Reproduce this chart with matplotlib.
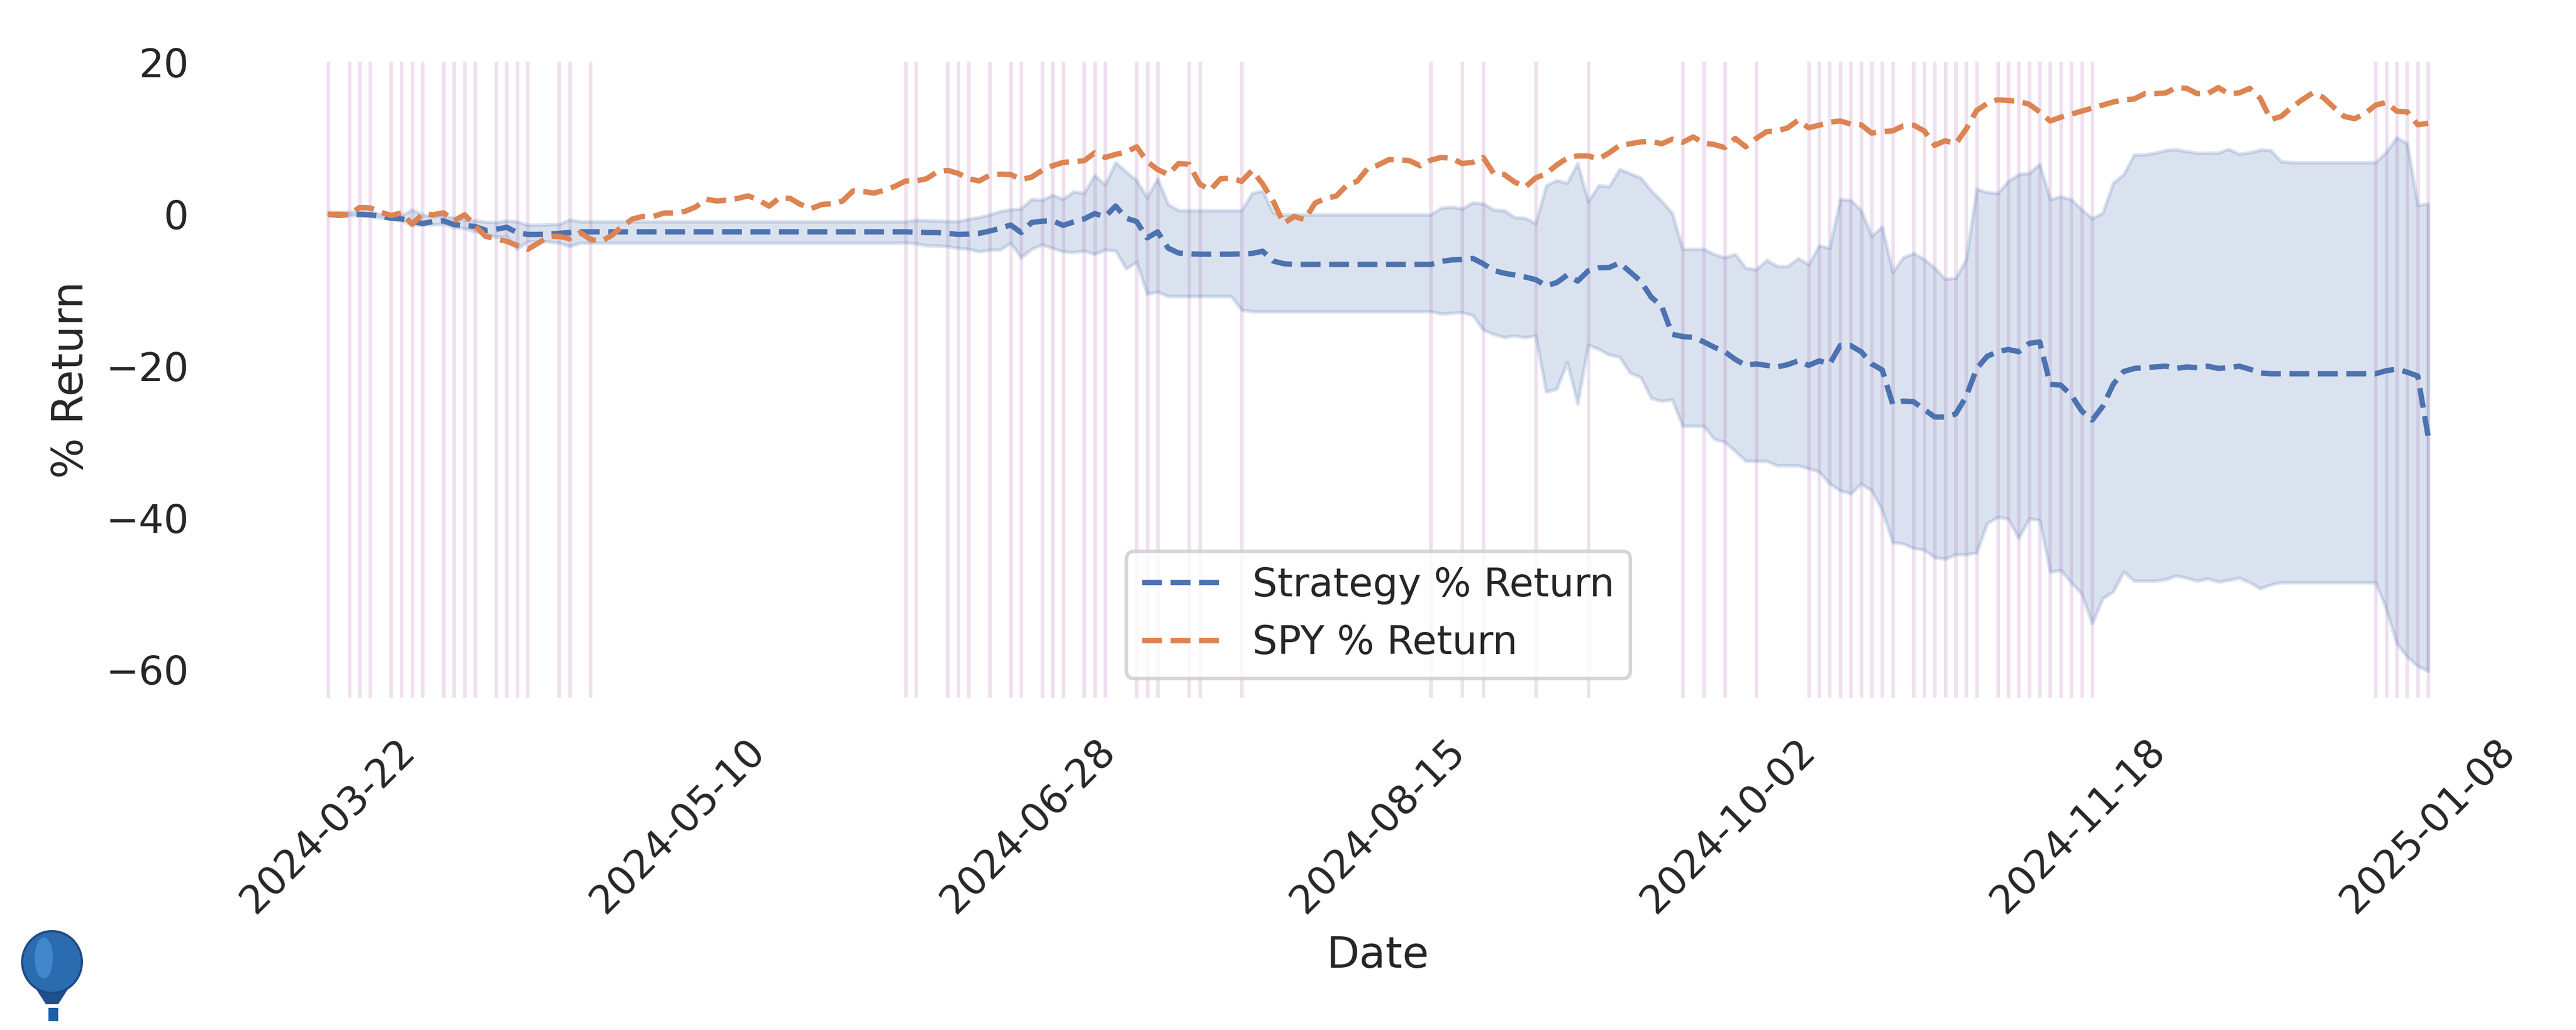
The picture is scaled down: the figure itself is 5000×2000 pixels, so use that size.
import numpy as np
import matplotlib
matplotlib.use("Agg")
import matplotlib.pyplot as plt
import matplotlib.patches as mpatches
import seaborn as sns

sns.set_theme(style="white", context="notebook")
plt.rcParams["font.family"] = ["DejaVu Sans"]

# ---------------- data (one value per trading day) ----------------
tick_labels = ["2024-03-22", "2024-05-10", "2024-06-28", "2024-08-15",
               "2024-10-02", "2024-11-18", "2025-01-08"]

spy_return = [
    0.0, 0.0, -0.05, 0.9, 0.85, 0.3, -0.15, 0.2, -1.3, 0.05,
    -0.05, 0.2, -0.85, -0.05, -1.5, -2.9, -3.2, -3.55, -4.1, -4.6,
    -3.8, -2.9, -2.9, -3.2, -2.4, -3.3, -3.55, -2.8, -1.6, -0.6,
    -0.27, -0.27, 0.18, 0.18, 0.4, 0.97, 2.0, 1.76, 1.87, 2.1,
    2.44, 1.87, 1.08, 2.2, 2.1, 1.3, 0.75, 1.3, 1.4, 1.76,
    3.1, 3.0, 2.8, 3.2, 3.7, 4.4, 4.4, 4.7, 5.6, 5.8,
    5.4, 4.7, 4.4, 5.15, 5.3, 5.25, 4.6, 4.9, 5.8, 6.4,
    6.85, 6.95, 7.07, 8.1, 7.5, 7.9, 8.2, 8.9, 6.95, 5.9,
    5.26, 6.7, 6.6, 4.0, 3.2, 4.7, 4.75, 4.35, 5.8, 4.0,
    1.76, -1.2, -0.27, -0.7, 1.5, 2.1, 2.4, 3.8, 4.36, 6.05,
    6.5, 7.2, 7.2, 7.07, 6.4, 7.14, 7.5, 7.4, 6.7, 6.85,
    7.5, 5.4, 5.26, 4.25, 3.6, 4.8, 5.37, 6.5, 7.4, 7.7,
    7.7, 7.3, 8.1, 9.1, 9.3, 9.55, 9.6, 9.3, 9.9, 9.5,
    10.2, 9.4, 9.2, 8.8, 10.0, 8.9, 10.0, 10.9, 11.0, 11.4,
    12.4, 11.4, 11.75, 12.15, 12.3, 11.9, 11.8, 10.7, 10.9, 11.0,
    11.65, 11.75, 11.0, 9.1, 9.7, 9.3, 11.25, 13.7, 14.6, 15.1,
    15.0, 14.9, 14.5, 13.5, 12.3, 12.8, 13.2, 13.6, 14.0, 14.4,
    14.8, 15.1, 15.2, 15.9, 15.9, 16.0, 16.7, 16.6, 15.9, 15.9,
    16.7, 15.9, 16.0, 16.6, 15.3, 12.5, 12.9, 14.1, 15.1, 16.0,
    15.4, 14.1, 12.9, 12.6, 13.3, 14.4, 14.75, 13.6, 13.5, 11.8,
    12.0,
]

strategy_return = [
    0.0, -0.1, -0.05, 0.0, -0.05, -0.25, -0.5, -0.6, -0.95, -1.2,
    -0.95, -0.85, -1.35, -1.45, -1.6, -2.1, -1.97, -1.7, -2.4, -2.65,
    -2.65, -2.6, -2.5, -2.4, -2.3, -2.3, -2.3, -2.3, -2.3, -2.3,
    -2.3, -2.3, -2.3, -2.3, -2.3, -2.3, -2.3, -2.3, -2.3, -2.3,
    -2.3, -2.3, -2.3, -2.3, -2.3, -2.3, -2.3, -2.3, -2.3, -2.3,
    -2.3, -2.3, -2.3, -2.3, -2.3, -2.3, -2.35, -2.4, -2.4, -2.5,
    -2.65, -2.6, -2.5, -2.2, -1.85, -1.4, -2.4, -1.07, -0.9, -0.85,
    -1.45, -1.0, -0.6, 0.1, -0.3, 1.1, -0.5, -0.95, -3.1, -2.3,
    -4.45, -5.1, -5.2, -5.25, -5.25, -5.25, -5.25, -5.2, -5.15, -4.85,
    -6.15, -6.5, -6.6, -6.6, -6.6, -6.6, -6.6, -6.6, -6.6, -6.6,
    -6.6, -6.6, -6.6, -6.6, -6.6, -6.6, -6.2, -6.0, -5.95, -5.8,
    -6.5, -7.4, -7.75, -8.0, -8.25, -8.6, -9.4, -9.0, -8.0, -8.8,
    -7.44, -7.05, -7.0, -6.4, -7.6, -8.8, -10.9, -12.1, -15.8, -16.1,
    -16.2, -16.8, -17.5, -18.1, -19.1, -19.9, -19.7, -19.9, -20.1, -19.8,
    -19.3, -19.9, -19.3, -19.7, -17.3, -17.3, -18.1, -19.7, -20.5, -25.0,
    -24.6, -24.7, -25.7, -26.7, -26.7, -26.3, -24.0, -20.3, -18.7, -18.1,
    -17.8, -18.1, -17.0, -16.8, -22.4, -22.5, -23.8, -25.9, -27.1, -25.3,
    -22.4, -20.7, -20.3, -20.2, -20.1, -20.0, -20.3, -20.1, -20.2, -20.0,
    -20.3, -20.2, -20.0, -20.4, -20.9, -21.0, -21.0, -21.0, -21.0, -21.0,
    -21.0, -21.0, -21.0, -21.0, -21.0, -21.0, -20.6, -20.4, -20.8, -21.3,
    -29.3,
]

strategy_upper = [
    0.3, 0.3, 0.3, 0.4, 0.3, 0.05, -0.1, -0.15, 0.6, -0.05,
    -0.25, -0.15, -0.5, -0.7, -0.8, -1.0, -1.05, -0.85, -0.95, -1.4,
    -1.4, -1.35, -1.3, -0.7, -0.95, -0.95, -0.95, -0.95, -0.95, -0.95,
    -0.95, -0.95, -0.95, -0.95, -0.95, -0.95, -0.95, -0.95, -0.95, -0.95,
    -0.95, -0.95, -0.95, -0.95, -0.95, -0.95, -0.95, -0.95, -0.95, -0.95,
    -0.95, -0.95, -0.95, -0.95, -0.95, -0.95, -0.75, -0.8, -0.85, -0.9,
    -0.95, -0.6, -0.4, -0.05, 0.4, 0.63, 0.74, 2.0, 1.87, 2.55,
    2.0, 3.0, 2.78, 5.15, 3.9, 6.85, 5.6, 4.47, 2.2, 4.7,
    1.3, 0.52, 0.52, 0.52, 0.52, 0.52, 0.52, 0.52, 2.78, 3.1,
    0.18, -0.05, -0.05, -0.05, -0.05, -0.05, -0.05, -0.05, -0.05, -0.05,
    -0.05, -0.05, -0.05, -0.05, -0.05, -0.05, 0.85, 0.97, 0.75, 1.53,
    1.42, 0.6, 0.52, -0.4, -0.5, -1.2, 3.79, 4.47, 4.13, 6.73,
    1.65, 3.79, 3.68, 5.94, 5.38, 4.81, 3.12, 1.76, 0.18, -4.57,
    -4.57, -4.57, -5.25, -5.7, -5.25, -7.05, -7.28, -6.04, -6.83, -6.83,
    -5.81, -6.6, -4.12, -4.46, 1.98, 1.87, 0.52, -2.87, -1.63, -7.6,
    -5.7, -5.13, -5.92, -7.05, -8.52, -8.41, -5.92, 3.34, 2.89, 2.78,
    4.36, 5.26, 5.42, 6.62, 1.98, 2.32, 1.98, 0.63, -0.55, 0.18,
    4.13, 5.26, 7.86, 7.86, 8.09, 8.45, 8.54, 8.3, 8.09, 8.09,
    8.1, 8.6, 7.95, 8.15, 8.5, 8.45, 6.96, 6.84, 6.84, 6.84,
    6.84, 6.84, 6.84, 6.84, 6.84, 6.84, 8.2, 10.12, 9.33, 1.19,
    1.42,
]

strategy_lower = [
    -0.05, -0.1, -0.15, -0.16, -0.27, -0.45, -0.6, -0.8, -1.4, -1.4,
    -1.35, -1.3, -1.74, -1.86, -2.3, -2.6, -3.0, -2.87, -4.57, -3.6,
    -3.55, -3.6, -3.78, -4.23, -3.78, -3.78, -3.78, -3.78, -3.78, -3.78,
    -3.78, -3.78, -3.78, -3.78, -3.78, -3.78, -3.78, -3.78, -3.78, -3.78,
    -3.78, -3.78, -3.78, -3.78, -3.78, -3.78, -3.78, -3.78, -3.78, -3.78,
    -3.78, -3.78, -3.78, -3.78, -3.78, -3.75, -3.85, -4.12, -4.12, -4.23,
    -4.46, -4.57, -4.9, -4.68, -4.68, -3.78, -5.7, -4.57, -4.0, -4.46,
    -4.9, -5.0, -4.8, -5.25, -4.68, -4.8, -7.17, -6.26, -10.5, -10.2,
    -10.8, -10.8, -10.8, -10.8, -10.8, -10.8, -10.8, -12.6, -12.8, -12.8,
    -12.8, -12.8, -12.8, -12.8, -12.8, -12.8, -12.8, -12.8, -12.8, -12.8,
    -12.8, -12.8, -12.8, -12.8, -12.8, -12.8, -13.1, -13.0, -12.9, -13.3,
    -15.2, -15.8, -16.2, -16.0, -16.2, -16.0, -23.4, -23.0, -19.5, -24.95,
    -17.2, -17.75, -18.5, -18.8, -20.9, -21.45, -24.2, -24.6, -24.4, -27.9,
    -27.9, -27.9, -29.6, -30.0, -31.2, -32.5, -32.5, -32.5, -33.1, -33.1,
    -33.1, -33.5, -33.9, -35.5, -36.4, -36.8, -35.5, -36.4, -39.0, -43.2,
    -43.4, -44.0, -44.2, -45.2, -45.4, -44.8, -44.8, -44.6, -40.7, -39.9,
    -40.1, -42.65, -40.1, -40.3, -47.1, -46.9, -48.5, -50.0, -53.9, -50.6,
    -49.7, -47.1, -48.3, -48.3, -48.3, -48.1, -47.6, -47.9, -48.3, -48.0,
    -48.4, -48.2, -47.9, -48.5, -49.3, -48.8, -48.5, -48.5, -48.5, -48.5,
    -48.5, -48.5, -48.5, -48.5, -48.5, -48.5, -52.0, -56.5, -58.3, -59.5,
    -60.2,
]

# trading-day positions where the strategy traded (vertical markers)
trade_days = [0, 2, 3, 4, 6, 7, 8, 9, 11, 12, 13, 14, 16, 17, 18, 19, 22, 23, 25,
              55, 56, 59, 60, 61, 63, 65, 66, 68, 69, 70, 72, 73, 74, 77, 78, 79,
              82, 83, 87, 105, 108, 110, 115, 120, 129, 131, 133, 136,
              141, 142, 143, 144, 145, 146, 147, 148, 149, 151, 152, 153, 154,
              155, 156, 157, 159, 160, 161, 162, 163, 164, 165, 166, 167, 168,
              195, 196, 197, 198, 199, 200]

# ---------------- plot ----------------
c_strat = "#4c72b0"
c_spy = "#dd8452"

x = np.arange(len(spy_return))

fig = plt.figure(figsize=(10, 4), dpi=500)
ax = fig.add_axes([0.0866, 0.3225, 0.8968, 0.6175])

for d in trade_days:
    ax.axvline(d, color="purple", alpha=0.12, lw=1.0, zorder=0.5)

ax.fill_between(x, strategy_lower, strategy_upper, color=c_strat, alpha=0.2, zorder=1)
ax.plot(x, strategy_return, "--", color=c_strat, lw=1.5, label="Strategy % Return", zorder=3)
ax.plot(x, spy_return, "--", color=c_spy, lw=1.5, label="SPY % Return", zorder=3)

ax.set_xlim(-10, len(x) + 9)
ax.set_ylim(-63.7, 20.1)
ax.set_yticks([-60, -40, -20, 0, 20])
ax.set_xticks(np.linspace(0, len(x) - 1, len(tick_labels)))
ax.set_xticklabels(tick_labels, rotation=45)
for s in ax.spines.values():
    s.set_visible(False)

ax.set_xlabel("Date")
ax.set_ylabel("% Return")
ax.legend(loc="lower center")

# small balloon logo (bottom-left corner)
tf = fig.transFigure
fig.add_artist(mpatches.Polygon([(0.0098, 0.0560), (0.0306, 0.0560), (0.0226, 0.0250), (0.0178, 0.0250)],
                                closed=True, transform=tf, facecolor="#1f4f8f", edgecolor="none"))
fig.add_artist(mpatches.Ellipse((0.0202, 0.0660), 0.0232, 0.0600, transform=tf,
                                facecolor="#2b6cb0", edgecolor="#1d4a85", lw=0.6))
fig.add_artist(mpatches.Ellipse((0.0170, 0.0700), 0.0070, 0.0400, transform=tf,
                                facecolor="#4b95d6", edgecolor="none", alpha=0.7))
fig.add_artist(mpatches.Rectangle((0.0187, 0.0085), 0.0038, 0.0130, transform=tf,
                                  facecolor="#1f5fa8", edgecolor="none"))

fig.savefig("out.png", dpi=500)
